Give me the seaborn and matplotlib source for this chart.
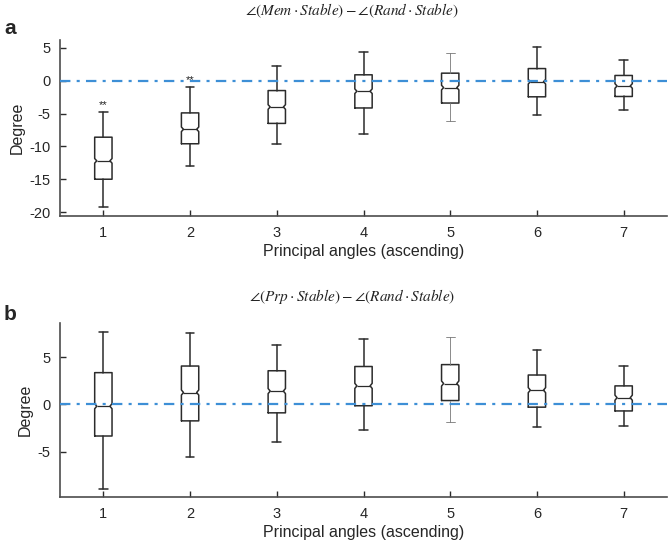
import numpy as np
import matplotlib
matplotlib.use('Agg')
import matplotlib.pyplot as plt
import seaborn as sns

# principal angle index
angles = [1, 2, 3, 4, 5, 6, 7]

# panel a: angle(Mem.Stable) - angle(Rand.Stable), box summary per angle
a_whislo = [-19.2, -13.0, -9.6, -8.1, -6.1, -5.2, -4.5]
a_q1 = [-15.0, -9.6, -6.5, -4.15, -3.4, -2.45, -2.4]
a_med = [-12.2, -7.4, -4.0, -1.6, -1.05, -0.15, -0.8]
a_q3 = [-8.6, -4.9, -1.5, 0.9, 1.15, 1.85, 0.8]
a_whishi = [-4.8, -0.9, 2.3, 4.3, 4.15, 5.15, 3.2]
a_notch = [0.35, 0.35, 0.35, 0.35, 0.35, 0.35, 0.35]
a_stars = ['**', '**', '', '', '', '', '']

# panel b: angle(Prp.Stable) - angle(Rand.Stable)
b_whislo = [-9.0, -5.6, -3.95, -2.75, -1.85, -2.35, -2.3]
b_q1 = [-3.35, -1.75, -0.9, -0.15, 0.4, -0.3, -0.7]
b_med = [-0.2, 1.25, 1.4, 1.95, 2.2, 1.5, 0.7]
b_q3 = [3.35, 4.05, 3.55, 4.0, 4.2, 3.1, 1.95]
b_whishi = [7.65, 7.55, 6.25, 6.95, 7.1, 5.75, 4.0]
b_notch = [0.27, 0.27, 0.27, 0.27, 0.27, 0.27, 0.27]

title_a = r'$\angle(Mem\cdot Stable)-\angle(Rand\cdot Stable)$'
title_b = r'$\angle(Prp\cdot Stable)-\angle(Rand\cdot Stable)$'

sns.set_theme(style='ticks')
plt.rcParams['font.family'] = ['Liberation Sans', 'DejaVu Sans']
plt.rcParams['mathtext.fontset'] = 'stix'
plt.rcParams['lines.scale_dashes'] = False
plt.rcParams['axes.unicode_minus'] = False

W, H = 668, 544
fig = plt.figure(figsize=(W / 100, H / 100), dpi=100)
ax_a = fig.add_axes([60 / W, 1 - 216 / H, 607 / W, 176 / H])
ax_b = fig.add_axes([60 / W, 1 - 497 / H, 607 / W, 174 / H])

box_w = 0.2
line_c = '#2b2b2b'


def draw_panel(ax, lo, q1, med, q3, hi, notch, ylim, yticks):
    stats = []
    for i in range(len(angles)):
        stats.append(dict(med=med[i], q1=q1[i], q3=q3[i], whislo=lo[i], whishi=hi[i],
                          cilo=med[i] - notch[i], cihi=med[i] + notch[i], fliers=[]))
    art = ax.bxp(stats, positions=angles, widths=box_w, shownotches=True, showfliers=False,
                 capwidths=0.1,
                 boxprops=dict(color=line_c, lw=1.1),
                 whiskerprops=dict(color=line_c, lw=1.1),
                 capprops=dict(color=line_c, lw=1.1),
                 medianprops=dict(color=line_c, lw=0.9))
    # shallower notches like the original figure
    for i, (box, mline) in enumerate(zip(art['boxes'], art['medians'])):
        x = np.array(box.get_xdata(), dtype=float)
        p = angles[i]
        x[3] = p + box_w * 0.38
        x[8] = p - box_w * 0.38
        box.set_xdata(x)
        mline.set_xdata([p - box_w * 0.38, p + box_w * 0.38])
    # fifth angle drawn with thin grey whiskers
    for ln in art['whiskers'][8:10] + art['caps'][8:10]:
        ln.set_color('#777777')
        ln.set_linewidth(0.6)
    ax.axhline(0, color='#3d8fd6', lw=1.6, dashes=(7.5, 4.5, 2.2, 4.5), zorder=5)
    ax.set_xlim(0.5, 7.5)
    ax.set_ylim(*ylim)
    ax.set_yticks(yticks)
    ax.set_xticks(angles)
    ax.set_xticklabels([str(v) for v in angles])
    ax.tick_params(direction='in', length=4, width=1, color=line_c, labelsize=10.5,
                   labelcolor='#262626', pad=7)
    for s in ['top', 'right']:
        ax.spines[s].set_visible(False)
    for s in ['left', 'bottom']:
        ax.spines[s].set_color('#4d4d4d')
        ax.spines[s].set_linewidth(1.2)
    ax.set_xlabel('Principal angles (ascending)', fontsize=11.5, color='#262626', labelpad=3)
    ax.set_ylabel('Degree', fontsize=11.5, color='#262626', labelpad=3)
    ax.patch.set_alpha(0)


draw_panel(ax_a, a_whislo, a_q1, a_med, a_q3, a_whishi, a_notch, (-20.6, 6.2), [-20, -15, -10, -5, 0, 5])
draw_panel(ax_b, b_whislo, b_q1, b_med, b_q3, b_whishi, b_notch, (-9.8, 8.6), [-5, 0, 5])

for p, hi, s in zip(angles, a_whishi, a_stars):
    if s:
        ax_a.text(p, hi + 0.3, s, ha='center', va='bottom', fontsize=8, color='#222222')

fig.text(352 / W, 1 - 11 / H, title_a, ha='center', va='center', fontsize=11, color='#222222')
fig.text(352 / W, 1 - 297 / H, title_b, ha='center', va='center', fontsize=11, color='#222222')
fig.text(4 / W, 1 - 28 / H, 'a', ha='left', va='center', fontsize=15, fontweight='bold')
fig.text(4 / W, 1 - 315 / H, 'b', ha='left', va='center', fontsize=15, fontweight='bold')

fig.savefig('out.png', dpi=100, facecolor='white')
